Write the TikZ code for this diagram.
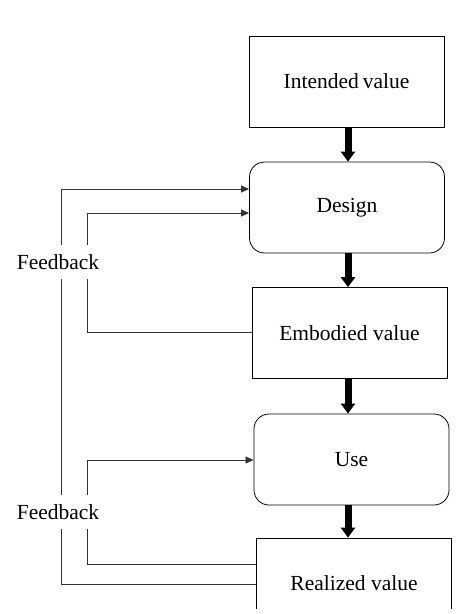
\documentclass[tikz,border=0pt]{standalone}
\usepackage{fontspec}
\setmainfont{Liberation Serif}
\usetikzlibrary{arrows.meta}
\begin{document}
\begin{tikzpicture}[x=1pt,y=-1pt,
  box/.style={draw=black,line width=0.8pt,minimum width=195pt,minimum height=91pt,inner sep=0pt,font=\fontsize{21.5}{25}\selectfont},
  rbox/.style={box,rounded corners=15pt},
  bigarrow/.style={line width=7pt,-{Triangle[width=14pt,length=10pt]}},
  fb/.style={line width=0.7pt,draw=black!80},
  fbarrow/.style={fb,-{Triangle[width=7pt,length=8pt]}},
  lbl/.style={fill=white,inner xsep=1pt,inner ysep=9pt,font=\fontsize{21.5}{25}\selectfont}]
\useasboundingbox (0,0) rectangle (472,614);
\begin{scope}
\clip (0,0) rectangle (472,608);
\node[box] (iv) at (346.5,81.5) {Intended\kern-1.5pt\ value};
\node[rbox] (d) at (347,207.5) {Design};
\node[box] (ev) at (349.5,333) {Embodied value};
\node[rbox] (u) at (351.5,459.5) {Use};
\node[box] (rv) at (354,583.5) {Realized value};
\end{scope}
\coordinate (ax) at (348,0);
% thick arrows
\draw[bigarrow] (iv.south -| ax) -- (d.north -| ax);
\draw[bigarrow] (d.south -| ax) -- (ev.north -| ax);
\draw[bigarrow] (ev.south -| ax) -- (u.north -| ax);
\draw[bigarrow] (u.south -| ax) -- (rv.north -| ax);
% feedback coordinates
\coordinate (o1) at (61,189);
\coordinate (o2) at (61,584);
\coordinate (i1) at (87,213);
\coordinate (i2) at (87,332);
\coordinate (j1) at (87,460);
\coordinate (j2) at (87,564);
\draw[fbarrow] (rv.west |- o2) -- (o2) -- (o1) -- (d.west |- o1);
\draw[fbarrow] (ev.west |- i2) -- (i2) -- (i1) -- (d.west |- i1);
\draw[fbarrow] (rv.west |- j2) -- (j2) -- (j1) -- (u.west |- j1);
\node[lbl] (f1) at (58,262) {Feedback};
\node[lbl] (f2) at (58,512) {Feedback};
\end{tikzpicture}
\end{document}
